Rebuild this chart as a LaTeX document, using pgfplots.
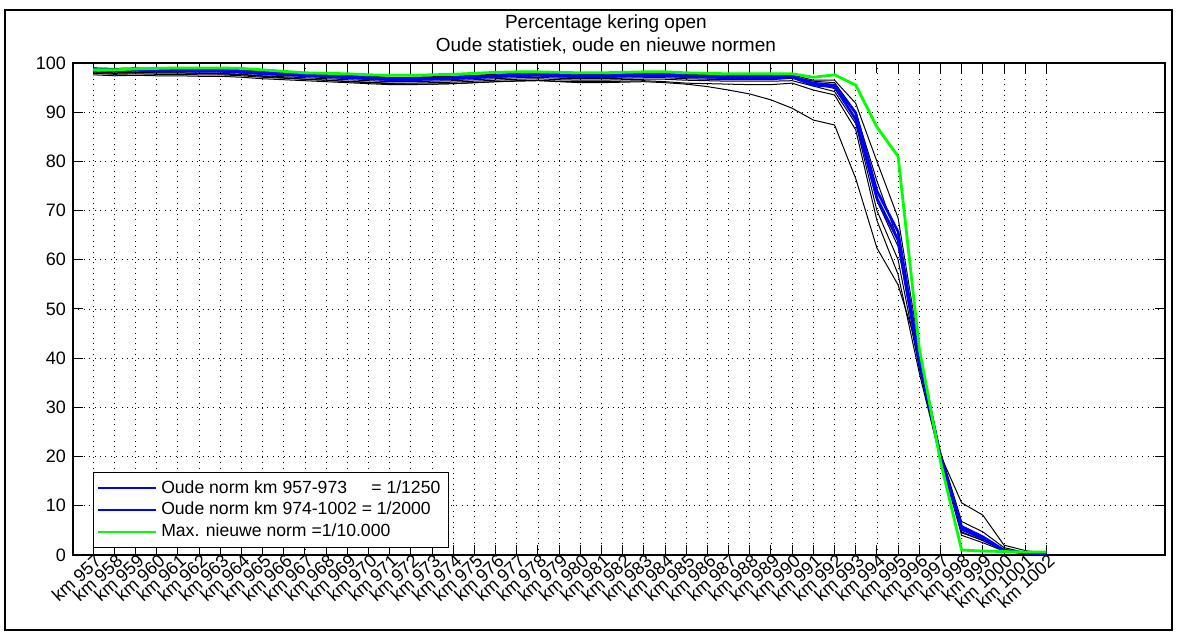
\documentclass[border=0pt]{standalone}
\usepackage{fontspec}
\setmainfont{Liberation Sans}
\usepackage{pgfplots}
\usepackage{pgfplotstable}
\pgfplotsset{compat=1.18}

% km, max nieuwe norm, oude norm (2x), zes andere reeksen
\pgfplotstableread{
km   G    Ba   Bb   K1   K2   K3   K4   K5   K6
957  98.6 98.8 98.6 98.0 99.0 98.5 98.2 97.9 97.6
958  98.6 98.6 98.4 97.9 98.9 98.3 98.0 97.7 97.4
959  98.8 98.7 98.5 98.0 99.0 98.4 98.1 97.8 97.5
960  98.9 98.6 98.4 98.0 98.9 98.3 98.0 97.7 97.4
961  99.0 98.6 98.4 98.0 98.9 98.3 98.0 97.7 97.4
962  99.0 98.5 98.3 97.9 98.8 98.2 97.9 97.6 97.3
963  99.0 98.5 98.3 97.8 98.8 98.2 97.9 97.6 97.3
964  98.9 98.3 98.1 97.6 98.6 98.0 97.7 97.4 97.1
965  98.6 98.0 97.8 97.3 98.3 97.7 97.4 97.1 96.8
966  98.3 97.8 97.6 97.0 98.1 97.5 97.2 96.9 96.6
967  98.0 97.6 97.4 96.7 97.9 97.3 97.0 96.7 96.4
968  97.9 97.4 97.2 96.5 97.7 97.1 96.8 96.5 96.2
969  97.8 97.2 97.0 96.2 97.5 96.9 96.6 96.3 96.0
970  97.6 97.0 96.8 96.0 97.3 96.7 96.4 96.1 95.8
971  97.5 96.8 96.6 95.8 97.1 96.5 96.2 95.9 95.6
972  97.5 96.8 96.6 95.7 97.1 96.5 96.2 95.9 95.6
973  97.6 96.9 96.7 95.7 97.2 96.6 96.3 96.0 95.7
974  97.7 97.0 96.8 95.8 97.3 96.7 96.4 96.1 95.8
975  97.9 97.2 97.0 96.0 97.5 96.9 96.6 96.3 96.0
976  98.1 97.4 97.2 96.2 97.7 97.1 96.8 96.5 96.2
977  98.2 97.6 97.4 96.3 97.9 97.3 97.0 96.7 96.4
978  98.2 97.7 97.5 96.4 98.0 97.4 97.1 96.8 96.5
979  98.1 97.5 97.3 96.2 97.8 97.2 96.9 96.6 96.3
980  98.0 97.4 97.2 96.0 97.7 97.1 96.8 96.5 96.2
981  98.0 97.4 97.2 96.0 97.7 97.1 96.8 96.5 96.2
982  98.1 97.5 97.3 96.1 97.8 97.2 96.9 96.6 96.3
983  98.2 97.6 97.4 96.2 97.9 97.3 97.0 96.7 96.4
984  98.2 97.6 97.4 96.0 97.9 97.3 97.0 96.7 96.2
985  98.0 97.4 97.2 95.7 97.7 97.1 96.8 96.5 95.9
986  97.9 97.3 97.1 95.2 97.6 97.0 96.7 96.4 95.8
987  97.8 97.2 97.0 94.5 97.5 96.9 96.6 96.3 95.7
988  97.8 97.2 97.0 93.7 97.5 96.9 96.6 96.3 95.6
989  97.8 97.2 97.0 92.5 97.5 96.9 96.6 96.3 95.6
990  97.8 97.3 97.1 90.8 97.6 97.2 96.9 96.4 95.9
991  97.1 95.9 95.5 88.4 96.5 96.3 95.8 95.3 94.5
992  97.6 95.5 95.2 87.4 96.5 96.0 94.8 94.2 93.5
993  95.5 89.8 88.5 76.5 91.8 90.1 88.8 87.7 86.4
994  87.0 74.0 72.5 62.4 80.0 76.0 72.0 70.0 68.0
995  81.0 65.7 64.0 54.9 68.5 64.0 62.7 60.0 57.0
996  42.0 40.0 39.0 41.0 42.0 40.5 39.0 38.0 37.0
997  19.0 20.0 20.0 20.0 20.3 21.0 20.0 20.0 19.5
998  1.0  5.8  5.2  4.5  10.6 6.8  5.5  4.7  4.0
999  0.8  3.7  3.3  3.0  8.1  4.7  3.4  2.9  2.5
1000 0.7  1.0  0.9  1.0  2.0  1.5  1.0  0.9  0.8
1001 0.6  0.4  0.4  0.4  0.9  0.5  0.4  0.3  0.3
1002 0.6  0.3  0.3  0.3  0.3  0.3  0.3  0.3  0.3
}\kmdata

\definecolor{mblue}{RGB}{0,0,255}
\definecolor{mgreen}{RGB}{0,255,0}

\begin{document}
\begin{tikzpicture}
\useasboundingbox (0,0) rectangle (589.5pt,317.5pt);
\draw[black, line width=0.8pt] (2.5pt,2.5pt) rectangle (586pt,312.5pt);
\begin{axis}[
  at={(36.5pt,40pt)}, anchor=south west,
  scale only axis, width=546pt, height=246pt,
  xmin=956.05, xmax=1007.6, ymin=0, ymax=100,
  xtick={957,...,1002},
  xticklabel={km \pgfmathprintnumber[1000 sep={}]{\tick}},
  xticklabel style={rotate=42, anchor=east, inner sep=1pt, yshift=-3pt, xshift=2pt},
  ytick={0,10,...,100},
  tick align=inside, major tick length=5pt,
  tick style={black, line width=0.5pt},
  grid=major,
  major grid style={black, line width=0.4pt, dash pattern=on 0.5pt off 2.2pt},
  axis line style={black, line width=0.6pt},
  ticklabel style={font=\fontsize{9}{10}\selectfont},
  /pgf/number format/assume math mode=true,
  title={Percentage kering open\\Oude statistiek, oude en nieuwe normen},
  title style={align=center, font=\fontsize{9.5}{11.5}\selectfont,
    at={(axis description cs:0.488,1)}, yshift=-5pt},
  legend style={at={(axis description cs:0.018,0.014)}, anchor=south west,
    font=\fontsize{8.8}{10}\selectfont, draw=black,
    row sep=-1pt, inner sep=2pt,
    legend cell align=left},
  legend image code/.code={\draw[#1, line width=1.1pt] (0pt,0pt) -- (29pt,0pt);},
]
\addplot[black, line width=0.5pt, forget plot] table[x=km, y=K1] {\kmdata};
\addplot[black, line width=0.5pt, forget plot] table[x=km, y=K2] {\kmdata};
\addplot[black, line width=0.5pt, forget plot] table[x=km, y=K3] {\kmdata};
\addplot[black, line width=0.5pt, forget plot] table[x=km, y=K4] {\kmdata};
\addplot[black, line width=0.5pt, forget plot] table[x=km, y=K5] {\kmdata};
\addplot[black, line width=0.5pt, forget plot] table[x=km, y=K6] {\kmdata};
\addplot[mblue, line width=1.3pt] table[x=km, y=Ba] {\kmdata};
\addlegendentry{Oude norm km 957-973\hspace{1.1em} = 1/1250}
\addplot[mblue, line width=1.3pt] table[x=km, y=Bb] {\kmdata};
\addlegendentry{Oude norm km 974-1002 = 1/2000}
\addplot[mgreen, line width=1.4pt] table[x=km, y=G] {\kmdata};
\addlegendentry{Max. nieuwe norm =1/10.000}
\end{axis}
\end{tikzpicture}
\end{document}
